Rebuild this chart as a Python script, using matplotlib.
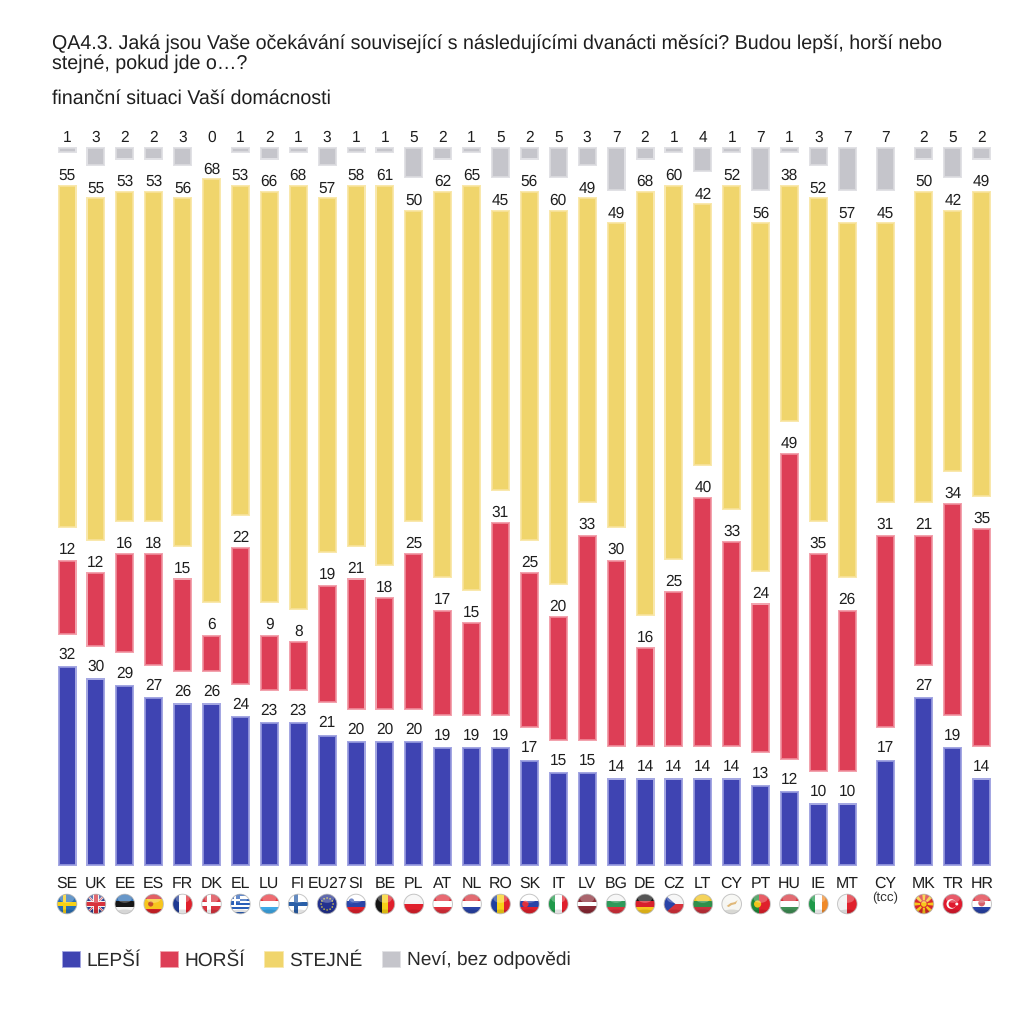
import matplotlib
matplotlib.use("Agg")
import matplotlib.pyplot as plt
import numpy as np
from matplotlib.patches import Circle, Rectangle, Polygon, Patch, Ellipse

plt.rcParams['font.family'] = ['Liberation Sans', 'DejaVu Sans']
plt.rcParams['text.hinting'] = 'none'
plt.rcParams['text.hinting_factor'] = 8

categories = ["SE","UK","EE","ES","FR","DK","EL","LU","FI","EU27","SI","BE","PL","AT","NL","RO","SK","IT","LV","BG","DE","CZ","LT","CY","PT","HU","IE","MT","CY","MK","TR","HR"]
positions = [i for i in range(28)] + [28.31, 29.65, 30.65, 31.65]
better = [32,30,29,27,26,26,24,23,23,21,20,20,20,19,19,19,17,15,15,14,14,14,14,14,13,12,10,10,17,27,19,14]
worse  = [12,12,16,18,15,6,22,9,8,19,21,18,25,17,15,31,25,20,33,30,16,25,40,33,24,49,35,26,31,21,34,35]
same   = [55,55,53,53,56,68,53,66,68,57,58,61,50,62,65,45,56,60,49,49,68,60,42,52,56,38,52,57,45,50,42,49]
dk     = [1,3,2,2,3,0,1,2,1,3,1,1,5,2,1,5,2,5,3,7,2,1,4,1,7,1,3,7,7,2,5,2]
series_names = ["LEPŠÍ","HORŠÍ","STEJNÉ","Neví, bez odpovědi"]
dark  = ["#3f44b2","#dd3e56","#f0d56c","#c5c5cb"]
light = ["#a4a7e2","#f2a3ae","#f9e8ad","#e1e1e5"]
mid   = ["#8a8ed8","#ec8090","#f6e094","#d8d8dc"]
label_pad = [5.2, 3.9, 3.2, 3.9]
title_lines = ["QA4.3. Jaká jsou Vaše očekávání související s následujícími dvanácti měsíci? Budou lepší, horší nebo",
               "stejné, pokud jde o…?"]
subtitle = "finanční situaci Vaší domácnosti"
GAP = 5

fig = plt.figure(figsize=(10.24,10.24), dpi=100, facecolor="white")
W = H = 1024.0
PX_X = 28.9; PX_Y = 719/115
L, R = 40, 1010
ax = fig.add_axes([L/W, (H-866)/H, (R-L)/W, 719/H])
ax.set_xlim((L-67)/PX_X, (R-67)/PX_X)
ax.set_ylim(0,115)
ax.axis("off")

txt = "#1e1e1e"
bw = 19/PX_X
def seg(x, bottom, val, k):
    h = max(val, 0.2)
    ax.bar(x, h, bottom=bottom, width=bw, color=light[k], lw=0, zorder=2)
    if val <= 0:
        return
    a = 1.1/PX_Y
    ax.bar(x, max(h-2*a,0.1), bottom=bottom+a, width=bw-2.2/PX_X, color=mid[k], lw=0, zorder=3)
    b = 2.0/PX_Y
    ax.bar(x, max(h-2*b,0.12), bottom=bottom+min(b,h/2-0.06), width=bw-4/PX_X, color=dark[k], lw=0, zorder=4)

for i, x in enumerate(positions):
    bottom = 0
    for k, arr in enumerate((better, worse, same, dk)):
        v = arr[i]
        seg(x, bottom, v, k)
        ax.annotate(str(v), (x, bottom+v), xytext=(0,label_pad[k]), textcoords="offset points",
                    ha="center", va="baseline", fontsize=11.2, color=txt, zorder=5)
        bottom += v + GAP

# overlay in pixel coordinates
ov = fig.add_axes([0,0,1,1], facecolor="none")
ov.set_xlim(0,W); ov.set_ylim(H,0); ov.axis("off")

def px(x): return 67 + x*PX_X

for x, c in zip(positions, categories):
    ov.text(px(x), 888, c, ha="center", va="baseline", fontsize=11.4, color=txt)
ov.text(px(positions[28]), 901, "(tcc)", ha="center", va="baseline", fontsize=9.6, color="#333333")

ov.text(52, 49, title_lines[0], fontsize=14.13, color=txt, va="baseline", ha="left")
ov.text(52, 69, title_lines[1], fontsize=14.13, color=txt, va="baseline", ha="left")
ov.text(52, 104, subtitle, fontsize=14.13, color=txt, va="baseline", ha="left")

# flags
def hs(cols):
    return [("h", cols)]
def vs(cols):
    return [("v", cols)]
def nordic(bg, cr, inner=None):
    return [("n", bg, cr, inner)]
flags = {
 0: nordic("#2a6fb5","#f7d117"),
 1: [("uk",)],
 2: hs(["#2f6fb5","#161616","#f4f4f4"]),
 3: hs(["#d8232a","#f7c61d","#f7c61d","#d8232a"]) + [("dot","#c8502a",-3,0,2.6)],
 4: vs(["#1f3a93","#ffffff","#e0202c"]),
 5: nordic("#d9343f","#ffffff"),
 6: [("gr",)],
 7: hs(["#e8343c","#ffffff","#3fa9e8"]),
 8: nordic("#ffffff","#2a5fa8"),
 9: [("eu",)],
 10: hs(["#ffffff","#2a44a8","#e0202c"]) + [("dot","#3a5ab8",-4.5,-3,2.6)],
 11: vs(["#151515","#f7d117","#e0202c"]),
 12: hs(["#f4f4f4","#e0202c"]),
 13: hs(["#e0303c","#ffffff","#e0303c"]),
 14: hs(["#d8323c","#ffffff","#2a44a8"]),
 15: vs(["#1f3f9f","#f7d117","#e0202c"]),
 16: hs(["#ffffff","#2a44a8","#e0202c"]) + [("dot","#e0303c",-4,0,3.2)],
 17: vs(["#1f9a4a","#ffffff","#e0202c"]),
 18: hs(["#8a2a35","#8a2a35","#ffffff","#8a2a35","#8a2a35"]),
 19: hs(["#f4f4f4","#2f9a5a","#d8323c"]),
 20: hs(["#151515","#d8202c","#f7c61d"]),
 21: [("cz",)],
 22: hs(["#f0c31c","#2f8f4a","#c8323c"]),
 23: [("cy",)],
 24: [("v2", ["#1f8a3a","#e0202c"], 0.4)] + [("dot","#f0c31c",-3,0,3.6)],
 25: hs(["#d8323c","#ffffff","#3f8f55"]),
 26: vs(["#1f9a4a","#ffffff","#f08a2a"]),
 27: [("v2", ["#f2f2f2","#e0202c"], 0.5)],
 29: [("mk",)],
 30: [("tr",)],
 31: hs(["#e0303c","#ffffff","#2a44a8"]) + [("dot","#d8606a",0,-1,3.4)],
}
R_F = 9.8
def draw_flag(idx, cx, cy):
    clip = Circle((cx,cy), R_F, transform=ov.transData)
    def add(p):
        ov.add_patch(p); p.set_clip_path(clip); return p
    def rect(x0,y0,w,h,c,z=3):
        return add(Rectangle((cx+x0,cy+y0),w,h,fc=c,ec="none",zorder=z))
    def poly(pts,c,z=4):
        return add(Polygon([(cx+a,cy+b) for a,b in pts],closed=True,fc=c,ec="none",zorder=z))
    r = R_F
    for item in flags[idx]:
        t = item[0]
        if t=="h":
            n=len(item[1]); hh=2*r/n
            for j,c in enumerate(item[1]): rect(-r,-r+j*hh,2*r,hh+.2,c)
        elif t=="v":
            n=len(item[1]); ww=2*r/n
            for j,c in enumerate(item[1]): rect(-r+j*ww,-r,ww+.2,2*r,c)
        elif t=="v2":
            cols,f=item[1],item[2]
            rect(-r,-r,2*r*f,2*r,cols[0]); rect(-r+2*r*f,-r,2*r*(1-f),2*r,cols[1])
        elif t=="n":
            rect(-r,-r,2*r,2*r,item[1])
            rect(-r,-1.9,2*r,3.8,item[2]); rect(-4.5,-r,3.8,2*r,item[2])
        elif t=="dot":
            add(Circle((cx+item[2],cy+item[3]),item[4],fc=item[1],ec="none",zorder=5))
        elif t=="uk":
            rect(-r,-r,2*r,2*r,"#2a3f8f")
            for s in (1,-1):
                poly([(-r,-r*s+1.5*s),(-r,-r*s-1.5*s),(r,r*s-1.5*s),(r,r*s+1.5*s)],"#f2f2f2")
            for s in (1,-1):
                poly([(-r,-r*s+.6*s),(-r,-r*s-.6*s),(r,r*s-.6*s),(r,r*s+.6*s)],"#d8323c",5)
            rect(-r,-3,2*r,6,"#f2f2f2",6); rect(-3,-r,6,2*r,"#f2f2f2",6)
            rect(-r,-1.8,2*r,3.6,"#d8323c",7); rect(-1.8,-r,3.6,2*r,"#d8323c",7)
        elif t=="gr":
            n=9; hh=2*r/n
            for j in range(n): rect(-r,-r+j*hh,2*r,hh+.1,"#2a5fb8" if j%2==0 else "#ffffff")
            rect(-r,-r,r*0.95,hh*5,"#2a5fb8",5)
            rect(-r,-r+2*hh,r*0.95,hh,"#ffffff",6); rect(-r+r*0.36,-r,hh,hh*5,"#ffffff",6)
        elif t=="eu":
            rect(-r,-r,2*r,2*r,"#23318f")
            for a in np.deg2rad(np.arange(0,360,30)):
                add(Circle((cx+6*np.cos(a),cy+6*np.sin(a)),0.8,fc="#d8c84a",ec="none",zorder=5))
        elif t=="cz":
            rect(-r,-r,2*r,r,"#f4f4f4"); rect(-r,0,2*r,r,"#d8323c")
            poly([(-r,-r),(1.5,0),(-r,r)],"#2a44a8")
        elif t=="cy":
            rect(-r,-r,2*r,2*r,"#f6f6f2")
            poly([(-5,2),(-1,-1),(3,-2),(6,-4),(4,0),(0,1),(-3,3)],"#e0b878")
        elif t=="mk":
            rect(-r,-r,2*r,2*r,"#d8282c")
            for a in np.deg2rad(np.arange(0,360,45)):
                poly([(1.6*np.cos(a-.45),1.6*np.sin(a-.45)),(1.6*np.cos(a+.45),1.6*np.sin(a+.45)),
                      (12*np.cos(a+.16),12*np.sin(a+.16)),(12*np.cos(a-.16),12*np.sin(a-.16))],"#f7c61d")
            add(Circle((cx,cy),3.3,fc="#f7c61d",ec="#d8282c",lw=.7,zorder=6))
        elif t=="tr":
            rect(-r,-r,2*r,2*r,"#e01a2e")
            add(Circle((cx-1.5,cy),4.8,fc="#ffffff",ec="none",zorder=5))
            add(Circle((cx-0.3,cy),3.9,fc="#e01a2e",ec="none",zorder=6))
            add(Circle((cx+4,cy),1.5,fc="#ffffff",ec="none",zorder=7))
    # shading and gloss
    add(Ellipse((cx,cy-5.3),14,8.2,fc="#ffffff",alpha=.28,ec="none",zorder=9))
    add(Ellipse((cx,cy+9.5),22,8,fc="#000000",alpha=.12,ec="none",zorder=9))
    ov.add_patch(Circle((cx,cy),R_F,fc="none",ec="#b8b8b8",lw=.7,alpha=.8,zorder=10))

for i, x in enumerate(positions):
    if i == 28:
        continue
    draw_flag(i, px(x), 904)

handles = [Patch(fc=dark[k], ec=light[k], lw=.6, label=series_names[k]) for k in range(4)]
fig.legend(handles=handles, ncol=4, frameon=False, loc="center left",
           bbox_to_anchor=(61.5/W, 1-960/H), fontsize=13.75, labelcolor="#2a2a2a",
           handlelength=0.95, handleheight=0.95, handletextpad=0.36, columnspacing=1.0,
           borderpad=0, borderaxespad=0)

fig.savefig("out.png", dpi=100, facecolor="white")
